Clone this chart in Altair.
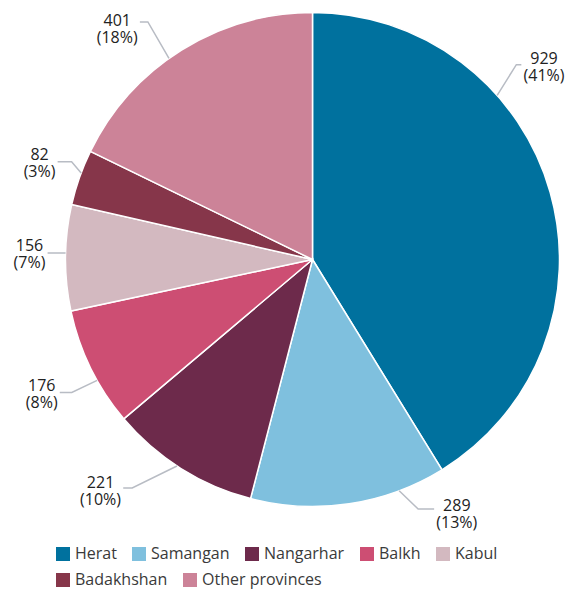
import math
import altair as alt
import pandas as pd

# ---- data ----
provinces = ["Herat", "Samangan", "Nangarhar", "Balkh", "Kabul", "Badakhshan", "Other provinces"]
counts = [929, 289, 221, 176, 156, 82, 401]
pct_labels = [41, 13, 10, 8, 7, 3, 18]
colors = ["#00719e", "#7fc0de", "#6d2a4b", "#cd4e73", "#d3b9c0", "#86364a", "#cc8398"]

# ---- layout (not data) ----
W, H = 557, 581
CX, CY, R = 304.5, 251.5, 247
FONT = "Open Sans"
LABEL_FS = 16
# anchor nudge from slice mid-angle (deg), elbow bend (deg), elbow radius,
# horizontal run (signed px), vertical text offset (px)
label_layout = {
    "Herat": (-25.8, -2.1, 282, 5, -6),
    "Samangan": (-12.0, -2.4, 271, 16, -3),
    "Nangarhar": (1.1, 5.0, 291, -9, -4.5),
    "Balkh": (-3.2, 0.4, 275, -12, -6.5),
    "Kabul": (1.1, 0.0, 251, -14, -7),
    "Badakhshan": (1.1, 1.6, 260, -14, -7),
    "Other provinces": (-3.5, 0.8, 289, -8, -1),
}
legend_rows = [provinces[:5], provinces[5:]]
legend_y = [538, 564]

char_w = {"(": 0.296, ")": 0.296, "%": 0.846}


def text_width(s):
    return sum(char_w.get(c, 0.572) for c in s) * LABEL_FS


def polar(angle_deg, r):
    a = math.radians(angle_deg)
    return CX + r * math.sin(a), CY - r * math.cos(a)


total = sum(counts)
cum_end = pd.Series(counts).cumsum()
pie_df = pd.DataFrame({
    "province": provinces,
    "count": counts,
    "t0": cum_end - pd.Series(counts),
    "t1": cum_end,
})

line_rows, text_rows = [], []
cum = 0
for i, (p, c, pc) in enumerate(zip(provinces, counts, pct_labels)):
    mid = (cum + c / 2) / total * 360
    cum += c
    nudge, bend, er, run, dy = label_layout[p]
    a = mid + nudge
    ax, ay = polar(a, R)
    ex, ey = polar(a + bend, er)
    hx = ex + run
    for k, (x, y) in enumerate([(ax, ay), (ex, ey), (hx, ey)]):
        line_rows.append({"province": p, "k": k, "x": x, "y": y})
    l1, l2 = f"{c}", f"({pc}%)"
    w = max(text_width(l1), text_width(l2))
    side = 1 if run > 0 else -1
    tx = hx + side * (2 + w / 2)
    text_rows.append({"province": p, "x": tx, "y": ey + dy, "label": l1 + "\n" + l2})

lines_df = pd.DataFrame(line_rows)
text_df = pd.DataFrame(text_rows)

xs = alt.Scale(domain=[0, W], range=[0, W])
ys = alt.Scale(domain=[0, H], range=[0, H])
theta_scale = alt.Scale(domain=[0, total])

pie_layers = []
for row, ly in zip(legend_rows, legend_y):
    sub = pie_df[pie_df["province"].isin(row)]
    row_colors = [colors[provinces.index(p)] for p in row]
    pie_layers.append(
        alt.Chart(sub).mark_arc(radius=R, stroke="white", strokeWidth=1.5).encode(
            theta=alt.Theta("t0:Q", scale=theta_scale),
            theta2="t1:Q",
            x=alt.value(CX),
            y=alt.value(CY),
            color=alt.Color(
                "province:N",
                sort=row,
                scale=alt.Scale(domain=row, range=row_colors),
                legend=alt.Legend(
                    title=None,
                    orient="none",
                    legendX=47,
                    legendY=ly,
                    direction="horizontal",
                    symbolType="square",
                    symbolSize=196,
                    symbolStrokeWidth=0,
                    labelFont=FONT,
                    labelFontSize=16,
                    labelColor="#3a3a3a",
                    labelOffset=4,
                    columnPadding=14,
                    padding=0,
                ),
            ),
        )
    )

leaders = alt.Chart(lines_df).mark_line(color="#b8bcc4", strokeWidth=1.5).encode(
    x=alt.X("x:Q", scale=xs, axis=None),
    y=alt.Y("y:Q", scale=ys, axis=None),
    detail="province:N",
    order="k:Q",
)

labels = alt.Chart(text_df).mark_text(
    font=FONT, fontSize=LABEL_FS, color="#222222", align="center", baseline="middle",
    lineBreak="\n", lineHeight=17,
).encode(
    x=alt.X("x:Q", scale=xs, axis=None),
    y=alt.Y("y:Q", scale=ys, axis=None),
    text="label:N",
)

chart = alt.layer(*pie_layers, leaders, labels).resolve_scale(
    color="independent"
).properties(
    width=W, height=H, padding=0,
    autosize=alt.AutoSizeParams(type="none"),
).configure_view(strokeWidth=0)

chart.save("out.html", embed_options={"renderer": "svg", "actions": False})
